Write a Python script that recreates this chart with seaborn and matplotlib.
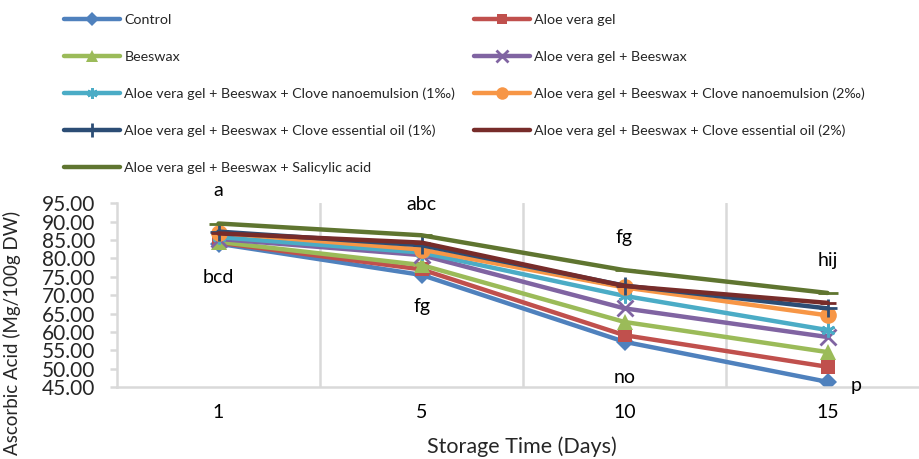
import matplotlib
matplotlib.use("Agg")
import matplotlib.pyplot as plt
import seaborn as sns
import pandas as pd
import numpy as np
from matplotlib.ticker import FormatStrFormatter, MultipleLocator

sns.set_theme(style="white")
plt.rcParams['font.family'] = ['Lato', 'DejaVu Sans']

days = ["1", "5", "10", "15"]
series_names = [
    "Control",
    "Aloe vera gel",
    "Beeswax",
    "Aloe vera gel + Beeswax",
    "Aloe vera gel + Beeswax + Clove nanoemulsion (1‰)",
    "Aloe vera gel + Beeswax + Clove nanoemulsion (2‰)",
    "Aloe vera gel + Beeswax + Clove essential oil (1%)",
    "Aloe vera gel + Beeswax + Clove essential oil (2%)",
    "Aloe vera gel + Beeswax + Salicylic acid",
]
control = [84.0, 75.5, 57.3, 46.4]
aloe = [84.3, 77.0, 59.1, 50.5]
beeswax = [84.5, 78.2, 62.7, 54.5]
aloe_bees = [85.3, 80.9, 66.4, 58.6]
nano1 = [85.8, 81.6, 69.8, 60.5]
nano2 = [87.0, 82.4, 72.1, 64.5]
oil1 = [87.3, 83.6, 72.6, 66.4]
oil2 = [86.8, 84.3, 72.5, 67.9]
salicylic = [89.5, 86.3, 76.8, 70.6]
values = [control, aloe, beeswax, aloe_bees, nano1, nano2, oil1, oil2, salicylic]

labels_text = ["a", "bcd", "abc", "fg", "fg", "no", "hij", "p"]
labels_day = ["1", "1", "5", "5", "10", "10", "15", "15"]
labels_y = [98.6, 74.9, 94.8, 67.0, 85.8, 47.6, 79.5, 45.3]
labels_dx = [0, 0, 0, 0, 0, 0, 0, 0.14]

colors = ["#4F81BD", "#C0504D", "#9BBB59", "#8064A2", "#4BACC6",
          "#F79646", "#2C4D75", "#772C2A", "#5F7530"]
markers = ["D", "s", "^", "x", (6, 2, 0), "o", "+", "_", "_"]
msizes = [9, 10, 11, 11, 10, 12, 13, 12, 14]

rows = []
for name, vals in zip(series_names, values):
    for i, (d, v) in enumerate(zip(days, vals)):
        rows.append({"series": name, "pos": i, "day": d, "value": v})
df = pd.DataFrame(rows)

fig = plt.figure(figsize=(9.19, 4.59), dpi=100)
ax = fig.add_axes([117/919, 1 - 387/459, (929 - 117)/919, (387 - 203.3)/459])

for name, c, m, ms in zip(series_names, colors, markers, msizes):
    sub = df[df["series"] == name]
    sns.lineplot(data=sub, x="pos", y="value", ax=ax, color=c, marker=m,
                 markersize=ms, linewidth=3.2,
                 markeredgewidth=2 if m in ["x", "+", "_", (6, 2, 0)] else 0,
                 markeredgecolor=c, label=name, legend=False, sort=False)

ax.set_xlim(-0.5, 3.5)
ax.set_ylim(45, 95)
ax.yaxis.set_major_locator(MultipleLocator(5))
ax.yaxis.set_major_formatter(FormatStrFormatter("%.2f"))
ax.set_xticks(range(len(days)))
ax.set_xticklabels(days)
ax.set_xticks([0.5, 1.5, 2.5], minor=True)
for xb in [0.5, 1.5, 2.5]:
    ax.axvline(xb, color="#D9D9D9", linewidth=1.8, zorder=0)
for s in ["top", "right"]:
    ax.spines[s].set_visible(False)
for s in ["left", "bottom"]:
    ax.spines[s].set_color("#D9D9D9")
    ax.spines[s].set_linewidth(1.8)
ax.tick_params(axis="x", which="major", length=0, labelsize=14, pad=12, colors="#000000")
ax.tick_params(axis="x", which="minor", length=5, width=1.8, color="#D9D9D9", direction="out")
ax.tick_params(axis="y", which="major", length=5, width=1.8, color="#D9D9D9", direction="out",
               labelsize=15, pad=11, left=True)
ax.set_xlabel("")
ax.set_ylabel("")
ax.grid(False)

for t, d, y, dx in zip(labels_text, labels_day, labels_y, labels_dx):
    ax.text(days.index(d) + dx, y, t, ha="center", va="center", fontsize=14, color="black",
            clip_on=False)

fig.text(12/919, 1 - 333/459, "Ascorbic Acid (Mg/100g DW)", rotation=90, ha="center",
         va="center", fontsize=13.5)
fig.text(522/919, 1 - 447/459, "Storage Time (Days)", ha="center", va="center", fontsize=15.5)

handles, lbls = ax.get_legend_handles_labels()
order_left = [0, 2, 4, 6, 8]
order_right = [1, 3, 5, 7]
h_ord = [handles[i] for i in order_left] + [handles[i] for i in order_right]
l_ord = [lbls[i] for i in order_left] + [lbls[i] for i in order_right]
fig.legend(h_ord, l_ord, ncol=2, loc="upper left", bbox_to_anchor=(60/919, 1 - 10/459),
           frameon=False, fontsize=10.3, handlelength=3.9, handletextpad=0.3,
           labelspacing=1.72, columnspacing=1.3, borderaxespad=0, borderpad=0.3,
           markerscale=0.75)

fig.savefig("out.png", dpi=100)
